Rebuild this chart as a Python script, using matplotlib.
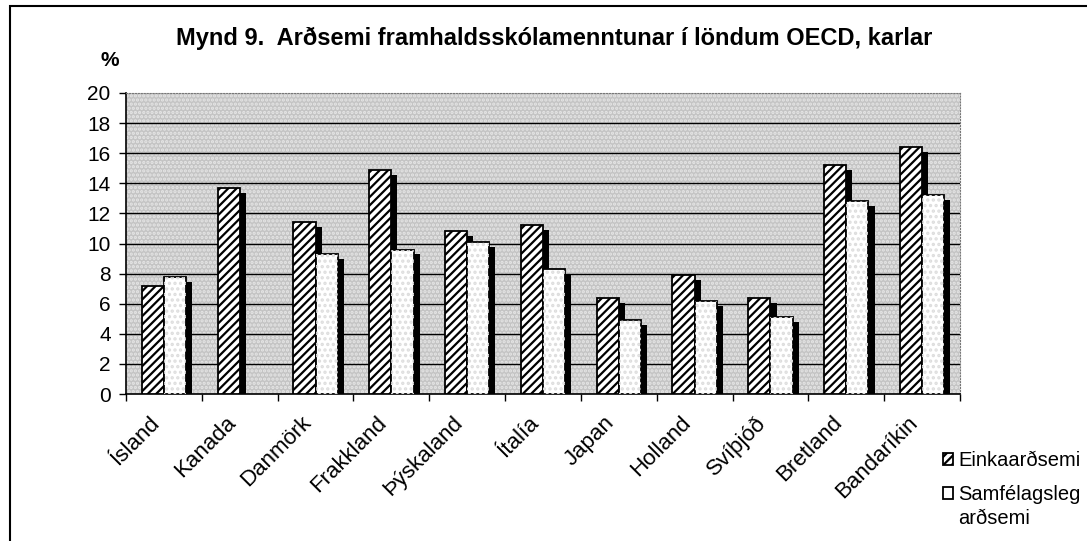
import matplotlib.pyplot as plt
import matplotlib.patches as patches
import numpy as np

# 1. GÖGN
lond = ['Ísland', 'Kanada', 'Danmörk', 'Frakkland', 'Þýskaland', 'Ítalía',
        'Japan', 'Holland', 'Svíþjóð', 'Bretland', 'Bandaríkin']
einka = [7.2, 13.7, 11.4, 14.9, 10.8, 11.2, 6.4, 7.9, 6.4, 15.2, 16.4]
samf = [7.8, np.nan, 9.3, 9.6, 10.1, 8.3, 4.9, 6.2, 5.1, 12.8, 13.2]
y_ticks = [0, 2, 4, 6, 8, 10, 12, 14, 16, 18, 20]

titill = "Mynd 9.  Arðsemi framhaldsskólamenntunar í löndum OECD, karlar"
heiti_einka = "Einkaarðsemi"
heiti_samf = ["Samfélagsleg", "arðsemi"]

# 2. STILLINGAR
plt.rcParams['font.family'] = ['Liberation Sans', 'DejaVu Sans']
plt.rcParams['hatch.linewidth'] = 1.6
W = 1087
H = 541
BAR_W = 0.293
SH_DX = 0.08
SH_DY = 0.33

fig = plt.figure(figsize=(W / 100, H / 100), dpi=100)
ax = fig.add_axes([126 / W, 1 - 394 / H, (960 - 126) / W, (394 - 93) / H])

x = np.arange(len(lond))
einka = np.array(einka)
samf = np.array(samf)

# bakgrunnur, grár punktaflötur
ax.set_facecolor('#c4c4c4')
bg = patches.Rectangle((0, 0), 1, 1, transform=ax.transAxes, facecolor='none',
                       edgecolor='#e6e6e6', hatch='....', linewidth=0, zorder=0)
ax.add_patch(bg)

for yv in y_ticks[1:-1]:
    ax.axhline(yv, color='black', linewidth=1.0, zorder=1)

# 3. SÚLUR MEÐ SKUGGA
ax.bar(x - BAR_W / 2 + SH_DX, einka - SH_DY, BAR_W, color='black', linewidth=0, zorder=2)
ax.bar(x + BAR_W / 2 + SH_DX, samf - SH_DY, BAR_W, color='black', linewidth=0, zorder=2)

b1 = ax.bar(x - BAR_W / 2, einka, BAR_W, facecolor='white', edgecolor='black',
            hatch='////', linewidth=1.3, zorder=3, label=heiti_einka)
b2 = ax.bar(x + BAR_W / 2, samf, BAR_W, facecolor='white', edgecolor='black',
            linewidth=1.3, zorder=3, label=heiti_samf[0])
ax.bar(x + BAR_W / 2, samf, BAR_W, facecolor='none', edgecolor='#dddddd',
       hatch='...', linewidth=0, zorder=3.5)

# 4. ÁSAR
ax.set_xlim(-0.5, len(lond) - 0.5)
ax.set_ylim(0, 20)
ax.set_yticks(y_ticks)
ax.tick_params(axis='y', direction='out', length=5, width=1, labelsize=15, pad=6)

ax.set_xticks(x)
ax.set_xticklabels(lond, rotation=45, ha='right', va='top', fontsize=16)
ax.tick_params(axis='x', which='major', length=0, pad=13)
ax.set_xticks(np.arange(len(lond) + 1) - 0.5, minor=True)
ax.tick_params(axis='x', which='minor', direction='out', length=5, width=1)

for s in ['left', 'bottom']:
    ax.spines[s].set_color('black')
    ax.spines[s].set_linewidth(1.2)
for s in ['top', 'right']:
    ax.spines[s].set_color('#777777')
    ax.spines[s].set_linewidth(0.8)
    ax.spines[s].set_linestyle(':')

# 5. TEXTI OG SKÝRINGAR
fig.text(554 / W, 1 - 38 / H, titill, ha='center', va='center',
         fontsize=17, fontweight='bold')
fig.text(110 / W, 1 - 61 / H, '%', ha='center', va='center',
         fontsize=15, fontweight='bold')

leg = fig.legend(handles=[b1, b2], loc='upper left', bbox_to_anchor=(933 / W, 1 - 441 / H),
                 frameon=False, fontsize=14.5, handlelength=0.5, handleheight=0.5,
                 handletextpad=0.25, labelspacing=0.75, borderpad=0)

# seinni lína skýringar undir "Samfélagsleg"
fig.canvas.draw()
bb = leg.get_texts()[1].get_window_extent().transformed(fig.transFigure.inverted())
fig.text(bb.x0, bb.y0 - 5 / H, heiti_samf[1], ha='left', va='top', fontsize=14.5)

ramma = patches.Rectangle((10 / W, -0.02), 1.1, 1 - 6 / H + 0.02, transform=fig.transFigure,
                          fill=False, edgecolor='black', linewidth=1.5, clip_on=False)
fig.patches.append(ramma)

fig.savefig('out.png', dpi=100)
